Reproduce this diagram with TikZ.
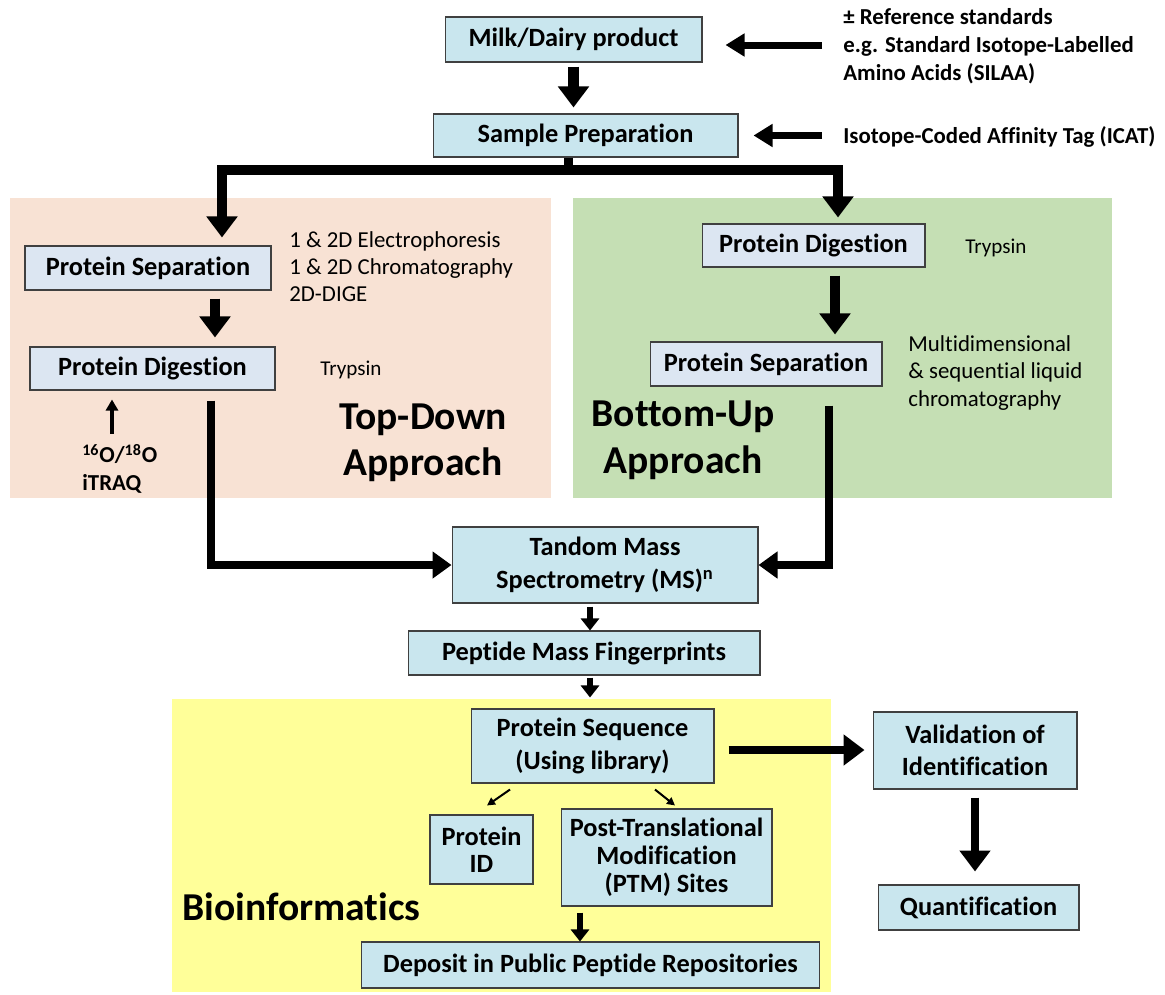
\documentclass[tikz,border=0pt]{standalone}
\usepackage{fontspec}
\setmainfont{Carlito}[Ligatures=NoCommon]
\usetikzlibrary{arrows.meta}
\definecolor{boxblue}{HTML}{C9E6EE}
\definecolor{paleblue}{HTML}{DCE6F2}
\definecolor{peach}{HTML}{F8E2D4}
\definecolor{sage}{HTML}{C5DFB4}
\definecolor{lemon}{HTML}{FFFF99}

\begin{document}
\begin{tikzpicture}[
    x=0.02cm, y=-0.02cm,
    % Styles
    box/.style={rectangle, draw=black!75, fill=boxblue, line width=0.6pt, align=center, inner sep=0pt, font=\fontsize{15}{18.5}\selectfont\bfseries},
    subbox/.style={box, fill=paleblue},
    note/.style={anchor=west, align=left, inner sep=0pt, font=\fontsize{13}{15.4}\selectfont},
    boldnote/.style={note, font=\fontsize{13}{15.9}\selectfont\bfseries},
    title/.style={align=center, inner sep=0pt, font=\fontsize{22.5}{26}\selectfont\bfseries},
    bigarrow/.style={-{Triangle[width=0.6cm,length=0.42cm]}, line width=0.2cm},
    flowarrow/.style={-{Triangle[width=0.52cm,length=0.38cm]}, line width=0.15cm},
    sidearrow/.style={-{Triangle[width=0.44cm,length=0.38cm]}, line width=0.14cm},
    smallarrow/.style={-{Triangle[width=0.36cm,length=0.24cm]}, line width=0.11cm},
    thinarrow/.style={-{Triangle[width=0.16cm,length=0.16cm]}, line width=0.04cm},
    bigline/.style={line width=0.18cm}
]
\useasboundingbox (0,0) rectangle (1165,994);

% --- Background regions ---
\fill[peach] (10,198) rectangle (551,498);
\fill[sage] (573,198) rectangle (1112,498);
\fill[lemon] (172,699) rectangle (831,992);

% --- Input ---
\node[box, minimum width=5.14cm, minimum height=0.90cm] (milk) at (573.5,39.5) {Milk/Dairy product};
\node[box, minimum width=6.10cm, minimum height=0.86cm] (prep) at (585.5,135.5) {Sample Preparation};
\node[boldnote] (refstd) at (843,46) {\textpm{} Reference standards\\e.g. Standard Isotope-Labelled\\Amino Acids (SILAA)};
\node[boldnote] (icat) at (843,137) {Isotope-Coded Affinity Tag (ICAT)};

% --- Top-Down branch ---
\node[subbox, minimum width=4.92cm, minimum height=0.88cm] (tdsep) at (148,268) {Protein Separation};
\node[subbox, minimum width=4.90cm, minimum height=0.86cm] (tddig) at (152.5,368.5) {Protein Digestion};
\node[note] (tdtech) at (289,267) {1 \& 2D Electrophoresis\\1 \& 2D Chromatography\\2D-DIGE};
\node[note, font=\fontsize{12}{14}\selectfont] (tdtryp) at (320,370) {Trypsin};
\node[boldnote] (isotag) at (82,469) {\textsuperscript{16}O/\textsuperscript{18}O\\iTRAQ};
\node[title] (tdtitle) at (423,443) {Top-Down\\Approach};

% --- Bottom-Up branch ---
\node[subbox, minimum width=4.46cm, minimum height=0.86cm] (budig) at (813.5,245.5) {Protein Digestion};
\node[subbox, minimum width=4.64cm, minimum height=0.88cm] (busep) at (766,364) {Protein Separation};
\node[note, font=\fontsize{12}{14}\selectfont] (butryp) at (965,248) {Trypsin};
\node[note] (butech) at (908,373) {Multidimensional\\\& sequential liquid\\chromatography};
\node[title, font=\fontsize{22.5}{27}\selectfont\bfseries] (butitle) at (683,440) {Bottom-Up\\Approach};

% --- Mass spectrometry ---
\node[box, minimum width=6.12cm, minimum height=1.52cm] (tms) at (605,565) {Tandom Mass\\Spectrometry (MS)\textsuperscript{n}};
\node[box, minimum width=7.04cm, minimum height=0.88cm] (pmf) at (584,653) {Peptide Mass Fingerprints};

% --- Bioinformatics ---
\node[box, minimum width=4.86cm, minimum height=1.48cm] (pseq) at (592.5,746) {Protein Sequence\\(Using library)};
\node[box, font=\fontsize{15}{15.5}\selectfont\bfseries, minimum width=2.06cm, minimum height=1.38cm] (pid) at (481.5,849.5) {Protein\\ID};
\node[box, font=\fontsize{15}{16}\selectfont\bfseries, minimum width=4.22cm, minimum height=1.94cm] (ptm) at (666.5,857.5) {Post-Translational\\Modification\\(PTM) Sites};
\node[box, minimum width=9.18cm, minimum height=0.92cm] (depo) at (590.5,965) {Deposit in Public Peptide Repositories};
\node[title, anchor=west] (bioinf) at (182,907) {Bioinformatics};
\node[box, minimum width=4.08cm, minimum height=1.54cm] (valid) at (975,750.5) {Validation of\\Identification};
\node[box, minimum width=4.02cm, minimum height=0.90cm] (quant) at (978.5,907.5) {Quantification};

% --- Connections ---
\draw[sidearrow, shorten <=0.42cm, shorten >=0.46cm] (refstd.west |- 0,45) -- (milk.east |- 0,45);
\draw[sidearrow, shorten <=0.42cm, shorten >=0.30cm] (icat.west |- prep.east) -- (prep.east);
\draw[bigarrow, line width=0.22cm, shorten <=0.08cm, shorten >=0.12cm] (milk.south) -- (milk.south |- prep.north);

% Split into the two approaches
\coordinate (split) at (568,170);
\draw[bigline] (split |- prep.south) -- (split);
\draw[bigarrow, shorten >=0.16cm] (split) -| ([xshift=1.48cm]tdsep.north);
\draw[bigarrow, shorten >=0.12cm] (split) -| ([xshift=0.49cm]budig.north);

% Top-Down flow
\draw[bigarrow, shorten <=0.16cm, shorten >=0.18cm] ([xshift=1.34cm]tdsep.south) -- ([xshift=1.34cm]tdsep.south |- tddig.north);
\draw[thinarrow, line width=0.07cm, -{Triangle[width=0.24cm,length=0.22cm]}, shorten <=0.2cm] ([xshift=0.6cm]isotag.north west) -- ([xshift=0.6cm, yshift=-0.18cm]isotag.north west |- tddig.south);
\draw[flowarrow, shorten <=0.2cm] ([xshift=1.17cm]tddig.south) |- (tms.west);

% Bottom-Up flow
\draw[bigarrow, shorten <=0.16cm, shorten >=0.14cm] ([xshift=0.43cm]budig.south) -- ([xshift=0.43cm]budig.south |- busep.north);
\draw[flowarrow, shorten <=0.38cm] ([xshift=1.26cm]busep.south) |- (tms.east);

% Mass spectrometry to bioinformatics
\draw[smallarrow, shorten <=0.06cm] ([xshift=-0.3cm]tms.south) -- ([xshift=-0.3cm]tms.south |- pmf.north);
\draw[smallarrow, shorten <=0.04cm, shorten >=0.22cm] ([xshift=0.12cm]pmf.south) -- ([xshift=0.12cm]pmf.south |- pseq.north);
\draw[thinarrow] ([xshift=-1.65cm, yshift=-0.12cm]pseq.south) -- ([xshift=0.11cm, yshift=0.18cm]pid.north);
\draw[thinarrow] ([xshift=1.25cm, yshift=-0.12cm]pseq.south) -- ([xshift=0.17cm, yshift=0.06cm]ptm.north);
\draw[smallarrow, shorten <=0.12cm] ([xshift=-0.21cm]depo.north |- ptm.south) -- ([xshift=-0.21cm]depo.north);

% Validation
\draw[bigarrow, line width=0.16cm, shorten <=0.28cm, shorten >=0.16cm] (pseq.east |- 0,750) -- (valid.west |- 0,750);
\draw[bigarrow, line width=0.16cm, shorten <=0.16cm, shorten >=0.26cm] (valid.south) -- (valid.south |- quant.north);

\end{tikzpicture}
\end{document}
